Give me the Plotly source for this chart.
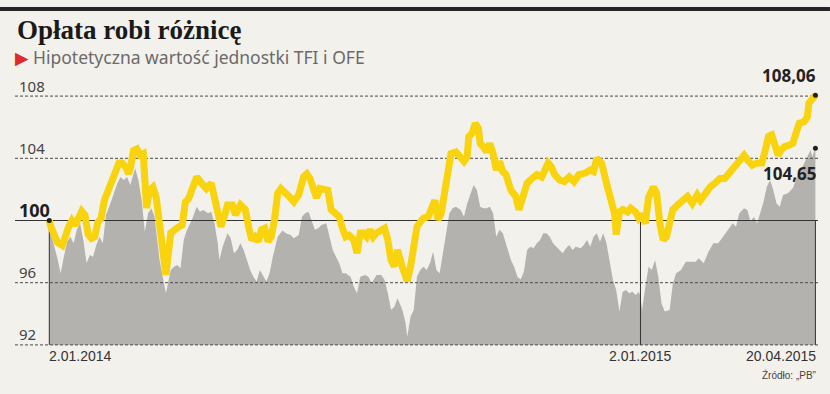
import pandas as pd
import plotly.graph_objects as go

# ---- data -------------------------------------------------------------
start_date = "2014-01-02"
mid_date = "2015-01-02"

# TFI (yellow) : days since 2.01.2014 and unit value
tfi_days = [0,1,5,8,12,14,16,20,22,24,26,28,30,32,34,36,39,41,43,45,47,49,50,52,54,56,58,59,60,62,64,66,68,70,72,75,77,80,82,84,86,89,91,94,97,100,102,104,106,108,110,113,115,118,121,123,125,127,129,131,133,135,137,139,141,143,146,149,151,154,157,159,161,163,165,167,170,172,174,176,179,181,183,185,188,190,192,194,196,198,200,202,205,207,209,211,213,215,218,220,221,223,225,227,229,231,234,236,238,240,242,244,246,248,251,254,256,258,259,261,263,265,266,268,270,272,274,276,278,280,282,285,288,290,292,295,298,301,304,306,308,310,312,315,318,321,324,327,329,331,334,336,338,341,344,347,349,350,352,354,357,359,362,364,366,368,370,373,375,377,379,381,383,385,388,392,394,397,400,402,405,408,411,414,417,420,423,425,427,429,431,434,437,440,442,444,446,448,450,452,454,457,459,461,463,466,468,469,471,473]
tfi_values = [100.0,99.6,98.6,98.4,99.6,100.0,99.7,100.6,100.35,99.1,98.85,98.95,99.9,100.15,101.3,101.85,102.7,103.25,103.7,103.7,103.45,103.0,103.35,104.5,104.6,104.2,104.3,102.6,100.8,101.95,102.15,101.5,99.8,97.5,96.5,99.2,99.4,99.6,99.7,101.2,101.4,102.4,102.8,102.4,102.05,102.4,101.3,100.25,99.6,100.25,101.0,101.0,100.35,101.0,100.7,99.6,98.75,98.95,98.65,99.4,99.5,98.65,98.95,100.0,101.75,102.05,101.8,101.45,101.2,101.65,102.8,103.0,102.7,101.95,101.45,102.05,102.05,101.95,100.7,100.45,100.25,99.5,98.95,99.05,98.75,97.9,99.2,99.2,98.95,99.4,98.95,99.2,99.4,99.5,98.75,97.45,97.05,98.1,97.0,96.3,96.1,97.0,98.5,99.6,99.9,100.15,100.25,100.7,101.3,100.05,100.45,101.75,103.45,104.3,104.4,104.0,103.8,104.1,105.4,105.6,106.25,105.9,104.95,104.75,104.4,104.95,104.3,103.25,103.8,103.15,102.95,101.95,101.55,100.7,101.4,102.4,102.7,102.95,102.8,103.35,103.7,103.45,102.95,102.6,102.5,102.8,102.5,102.95,102.95,103.05,103.25,103.15,104.0,103.7,102.4,101.3,100.45,99.1,100.55,100.7,100.55,100.8,100.55,100.15,100.4,99.8,101.5,102.15,101.75,99.8,98.75,98.95,100.05,100.7,101.0,101.4,101.55,101.1,101.65,101.3,101.75,102.15,102.4,102.7,102.7,103.05,103.5,103.75,103.9,104.2,103.9,103.55,103.7,103.7,104.5,105.4,105.5,104.85,104.2,104.55,104.75,104.85,104.95,105.6,106.25,106.35,106.65,107.55,107.85,108.06]

# OFE (grey area)
ofe_days = [0,2,5,7,9,11,13,15,17,19,21,23,25,27,29,31,33,35,37,40,42,44,46,48,50,53,55,57,59,61,63,65,67,68,70,72,75,77,79,81,83,85,88,91,93,95,98,100,102,104,105,107,110,112,114,116,118,120,122,124,126,128,130,132,134,136,138,141,144,146,149,151,154,156,158,160,162,164,166,168,171,173,175,177,179,181,183,186,188,190,192,195,197,199,202,205,207,209,211,213,215,218,220,221,223,225,227,229,231,233,235,237,239,241,243,245,247,249,251,254,256,258,260,262,264,266,268,270,272,274,276,278,280,282,285,287,289,291,293,295,297,299,301,303,305,307,309,311,313,315,317,319,321,323,325,328,330,332,334,336,338,340,342,344,346,348,350,352,354,356,358,360,362,364,365,366,368,370,372,374,376,378,380,383,385,387,390,393,396,399,401,404,407,410,413,416,419,422,424,426,429,431,433,435,437,439,441,443,445,447,449,451,453,456,459,461,463,465,468,470,471,473]
ofe_values = [99.4,98.75,97.57,96.6,97.67,98.64,98.96,98.53,99.4,99.82,98.75,97.25,97.78,97.67,98.42,98.96,98.53,100.35,100.89,101.75,102.4,102.8,102.6,102.8,102.28,103.36,102.6,101.32,99.28,100.46,100.78,100.24,98.53,97.5,96.39,95.32,96.82,97.03,97.14,96.93,98.75,99.4,100.03,100.89,100.57,100.68,100.46,100.57,99.82,98.53,97.46,98.31,99.18,98.86,97.89,98.1,98.53,98.1,97.46,96.82,96.39,96.07,96.82,96.39,96.07,96.6,97.67,98.96,99.35,99.18,99.07,98.86,99.07,100.24,100.46,100.57,100.03,99.4,99.5,99.71,99.82,98.96,98.1,97.67,97.25,96.6,96.6,96.39,95.74,95.32,96.39,96.5,96.39,95.96,96.5,96.5,96.17,95.32,94.24,94.46,95.0,94.24,93.39,92.53,93.81,94.24,96.39,96.82,97.03,96.82,97.25,97.99,96.82,96.6,97.89,98.96,100.46,100.78,100.89,100.68,100.24,101.1,101.64,102.28,101.96,100.89,100.78,100.78,100.89,100.46,98.96,99.4,99.18,98.53,97.46,97.03,96.39,96.2,96.7,98.1,98.31,98.21,98.53,98.75,99.18,99.18,98.96,98.53,98.31,98.1,97.89,98.21,98.42,98.1,98.31,98.21,98.42,98.75,98.31,98.96,99.18,98.64,99.18,98.53,97.25,96.17,95.53,94.14,95.42,95.53,95.32,95.42,95.21,95.42,95.1,94.24,95.74,97.03,96.82,97.46,96.39,94.67,94.14,94.24,95.96,96.6,96.82,97.35,97.35,97.35,97.57,97.25,97.99,98.53,98.53,98.96,99.4,99.82,99.6,100.46,100.78,100.68,99.92,100.24,99.82,100.46,101.2,102.17,102.6,101.96,101.1,100.89,101.64,101.75,102.07,102.6,103.25,103.46,104.1,104.53,104.1,104.65]

y_ticks = [92, 96, 100, 104, 108]
x_tick_labels = ["2.01.2014", "2.01.2015", "20.04.2015"]
end_labels = ["108,06", "104,65"]
title = "Opłata robi różnicę"
subtitle = "Hipotetyczna wartość jednostki TFI i OFE"
source = "Źródło: „PB”"

# ---- styling ----------------------------------------------------------
BG = "#f3f1ec"
YELLOW = "#f8d30e"
GREY = "#b3b2ae"
GRID = "#4a4a4a"

base = pd.Timestamp(start_date)
tfi_x = base + pd.to_timedelta(tfi_days, unit="D")
ofe_x = base + pd.to_timedelta(ofe_days, unit="D")
x_end = tfi_x[-1]
x_mid = pd.Timestamp(mid_date)
x_range = [base - pd.Timedelta(days=21.18), base + pd.Timedelta(days=474.6)]
y_min = min(y_ticks)

fig = go.Figure()

# baseline for the area
fig.add_trace(go.Scatter(x=ofe_x, y=[y_min] * len(ofe_x), mode="lines",
                         line=dict(width=0, color=GREY), hoverinfo="skip",
                         showlegend=False))
# OFE area
fig.add_trace(go.Scatter(x=ofe_x, y=ofe_values, mode="lines", fill="tonexty",
                         fillcolor=GREY, line=dict(width=0, color=GREY),
                         showlegend=False))

# grid lines (drawn between area and yellow line)
for t in y_ticks:
    fig.add_trace(go.Scatter(
        x=x_range, y=[t, t], mode="lines", hoverinfo="skip", showlegend=False,
        line=dict(color="#333333" if t == 100 else GRID, width=1.2 if t == 100 else 1,
                  dash="solid" if t == 100 else "3px,2px")))

# vertical markers
for xv in [tfi_x[0], x_mid, x_end]:
    fig.add_trace(go.Scatter(x=[xv, xv], y=[y_min, 100], mode="lines",
                             hoverinfo="skip", showlegend=False,
                             line=dict(color="#333333", width=1)))

# TFI line
fig.add_trace(go.Scatter(x=tfi_x, y=tfi_values, mode="lines",
                         line=dict(color=YELLOW, width=7),
                         showlegend=False))

# dots
fig.add_trace(go.Scatter(x=[tfi_x[0], x_end, ofe_x[-1]],
                         y=[tfi_values[0], tfi_values[-1], ofe_values[-1]],
                         mode="markers", marker=dict(color="#222222", size=5),
                         showlegend=False, hoverinfo="skip"))

annotations = []
# y tick labels
for t in y_ticks:
    bold = t == 100
    annotations.append(dict(
        xref="paper", yref="y", x=0.0025, y=t, yshift=11 if bold else 10.5,
        xanchor="left", yanchor="middle", showarrow=False,
        text=f"<b>{t}</b>" if bold else str(t),
        font=dict(family="Noto Sans", size=18 if bold else 15,
                  color="#1e1e1e" if bold else "#444444")))

# x labels
for txt, xv, anchor, shift in zip(x_tick_labels, [tfi_x[0], x_mid, x_end],
                                  ["left", "center", "right"], [-2, 0, 3]):
    annotations.append(dict(xref="x", yref="y", x=xv, y=y_min, yshift=-11,
                            xshift=shift, xanchor=anchor, yanchor="middle",
                            showarrow=False, text=txt,
                            font=dict(family="Liberation Sans", size=14,
                                      color="#333333")))

# end value labels
annotations.append(dict(xref="x", yref="y", x=x_end, y=tfi_values[-1], yshift=20,
                        xshift=3, xanchor="right", yanchor="middle", showarrow=False,
                        text=f"<b>{end_labels[0]}</b>",
                        font=dict(family="Noto Sans", size=17, color="#222222")))
annotations.append(dict(xref="x", yref="y", x=x_end, y=ofe_values[-1], yshift=-25,
                        xshift=3, xanchor="right", yanchor="middle", showarrow=False,
                        text=f"<b>{end_labels[1]}</b>",
                        font=dict(family="Noto Sans", size=17, color="#222222")))

# source
annotations.append(dict(xref="x", yref="y", x=x_end, y=y_min, yshift=-30, xshift=3,
                        xanchor="right", yanchor="middle", showarrow=False,
                        text=source,
                        font=dict(family="Liberation Sans", size=10, color="#444444")))

# title & subtitle
annotations.append(dict(xref="paper", yref="paper", x=0, y=1.1832,
                        xanchor="left", yanchor="middle", showarrow=False,
                        text=f"<b>{title}</b>",
                        font=dict(family="Liberation Serif", size=27, color="#1a1a1a")))
annotations.append(dict(xref="paper", yref="paper", x=-0.002, y=1.0842,
                        xanchor="left", yanchor="middle", showarrow=False,
                        text=f"<span style='color:#e02b2b'>▶</span> {subtitle}",
                        font=dict(family="Noto Sans, DejaVu Sans", size=17.5,
                                  color="#6a6a6a")))

fig.update_layout(
    width=830, height=394,
    margin=dict(l=15, r=12, t=80, b=41),
    paper_bgcolor=BG, plot_bgcolor=BG,
    showlegend=False,
    xaxis=dict(type="date", range=x_range, showgrid=False, zeroline=False,
               showticklabels=False, showline=False, fixedrange=True),
    yaxis=dict(range=[91.479, 109.035], showgrid=False, zeroline=False,
               showticklabels=False, showline=False, fixedrange=True),
    annotations=annotations,
    shapes=[dict(type="rect", xref="paper", yref="paper",
                 x0=-0.0187, x1=1.0149, y0=1.2527, y1=1.2674,
                 fillcolor="#262626", line=dict(width=0), layer="above")],
)

fig.write_html("out.html", config={"displayModeBar": False})

# remove the default page margin so the figure fills the window exactly
with open("out.html", encoding="utf-8") as f:
    html = f.read()
html = html.replace("<head>", "<head><style>html,body{margin:0;padding:0;overflow:hidden;}</style>", 1)
with open("out.html", "w", encoding="utf-8") as f:
    f.write(html)
